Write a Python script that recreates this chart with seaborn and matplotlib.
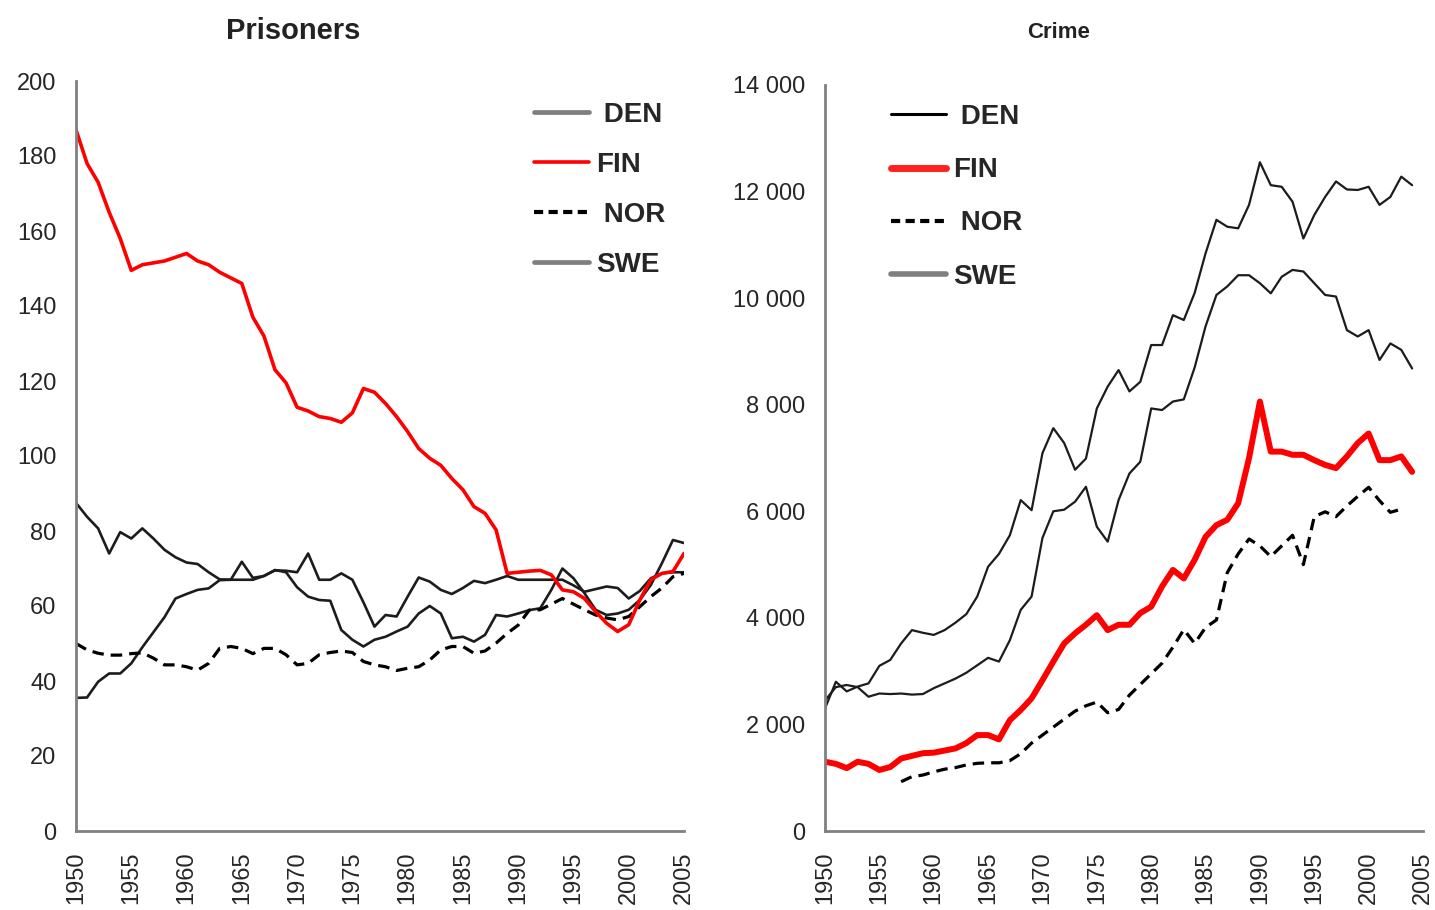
import numpy as np
import pandas as pd
import matplotlib
matplotlib.use("Agg")
import matplotlib.pyplot as plt
from matplotlib.lines import Line2D
import seaborn as sns

# --- data ---
years = list(range(1950, 2006))
crime_years = list(range(1950, 2005))

prison_den = [87.5, 83.8, 80.7, 74, 79.7, 78, 80.7, 78, 75, 73,
              71.6, 71.2, 69, 67.1, 67, 67, 67, 68, 69.5, 69.4,
              69, 74, 67, 67, 68.7, 67, 61, 54.5, 57.6, 57.2,
              62.5, 67.6, 66.5, 64.3, 63.2, 64.8, 66.7, 66.1, 67, 68,
              67, 67, 67, 67, 67, 65.5, 63.8, 64.5, 65.2, 64.8,
              62, 64, 67.4, 68.7, 69, 69]
prison_fin = [187, 178, 173, 165, 158, 149.5, 151, 151.5, 152, 153,
              154, 152, 151, 149, 147.5, 146, 137, 132, 123, 119.5,
              113, 112, 110.5, 110, 109, 111.5, 118, 117, 114, 110.5,
              106.5, 102, 99.4, 97.5, 94, 91, 86.5, 84.7, 80.3, 68.7,
              69, 69.3, 69.5, 68.3, 64.3, 63.8, 62, 58.5, 55.4, 53.2,
              55, 61.6, 67, 68.7, 69.2, 74]
prison_nor = [50, 48.3, 47.4, 46.9, 46.9, 47.3, 47.5, 46.1, 44.3, 44.3,
              43.8, 42.9, 44.7, 48.7, 49.2, 48.7, 47.3, 48.7, 48.7, 47,
              44.3, 44.7, 47, 47.6, 48, 47.6, 45.2, 44.3, 43.8, 42.8,
              43.4, 43.8, 45.6, 48.3, 49.2, 49.2, 47.4, 48, 50.1, 52.7,
              54.9, 58.9, 59, 60.5, 62, 60.5, 59, 57.6, 56.8, 56.3,
              57.2, 59.8, 62.5, 64.8, 67.8, 68.7]
prison_swe = [35.5, 35.6, 39.8, 42, 42, 44.7, 49, 53, 57, 62,
              63.2, 64.3, 64.7, 66.9, 67, 71.8, 67.5, 68, 69.6, 69,
              65, 62.5, 61.6, 61.4, 53.6, 51, 49.2, 51, 51.8, 53.2,
              54.5, 58, 60, 58, 51.4, 51.8, 50.5, 52.3, 57.6, 57.2,
              58, 58.9, 59.4, 64.3, 70, 67.4, 63.4, 59, 57.6, 58,
              59, 61.6, 65.6, 71.4, 77.6, 76.8]

crime_den = [2450, 2700, 2740, 2700, 2520, 2580, 2570, 2580, 2560, 2570,
             2680, 2770, 2860, 2970, 3110, 3250, 3180, 3580, 4150, 4400,
             5500, 6000, 6030, 6180, 6460, 5710, 5430, 6210, 6710, 6930,
             7930, 7900, 8060, 8100, 8700, 9470, 10060, 10220, 10430, 10430,
             10280, 10090, 10400, 10530, 10500, 10280, 10060, 10030, 9400, 9280,
             9400, 8840, 9150, 9030, 8680]
crime_fin = [1300, 1260, 1180, 1300, 1260, 1145, 1200, 1360, 1410, 1460,
             1470, 1510, 1550, 1650, 1800, 1800, 1720, 2080, 2270, 2490,
             2830, 3180, 3520, 3710, 3870, 4050, 3770, 3870, 3870, 4090,
             4210, 4590, 4900, 4740, 5090, 5520, 5740, 5840, 6150, 7000,
             8060, 7120, 7120, 7060, 7060, 6960, 6870, 6810, 7030, 7280,
             7460, 6960, 6960, 7030, 6740]
crime_nor = [np.nan] * 7 + [
             925, 1020, 1050,
             1110, 1160, 1190, 1240, 1270, 1280, 1280, 1320, 1450, 1650,
             1800, 1950, 2100, 2250, 2350, 2420, 2220, 2280, 2550, 2750,
             2950, 3150, 3450, 3780, 3520, 3820, 3960, 4850, 5200, 5480,
             5350, 5150, 5350, 5550, 5000, 5900, 5990, 5900, 6100, 6280,
             6450, 6200, 5980, 6040, np.nan]
crime_swe = [2300, 2800, 2620, 2710, 2770, 3100, 3210, 3520, 3770, 3720,
             3680, 3770, 3910, 4070, 4400, 4960, 5200, 5550, 6210, 6020,
             7090, 7560, 7280, 6780, 6990, 7930, 8340, 8650, 8250, 8430,
             9120, 9120, 9680, 9590, 10100, 10840, 11470, 11340, 11310, 11750,
             12550, 12120, 12090, 11810, 11120, 11560, 11900, 12190, 12040, 12030,
             12090, 11750, 11900, 12280, 12120]

countries = ["DEN", "FIN", "NOR", "SWE"]
year_labels = [str(y) if y % 5 == 0 else "" for y in years]
prison_ticks = list(range(0, 201, 20))
crime_ticks = list(range(0, 14001, 2000))
crime_tick_labels = ["0", "2 000", "4 000", "6 000", "8 000", "10 000", "12 000", "14 000"]

prison = pd.DataFrame({"year": years, "DEN": prison_den, "FIN": prison_fin,
                       "NOR": prison_nor, "SWE": prison_swe})
crime = pd.DataFrame({"year": crime_years, "DEN": crime_den, "FIN": crime_fin,
                      "NOR": crime_nor, "SWE": crime_swe})

sns.set_style("white")
plt.rcParams["font.family"] = ["Liberation Sans", "DejaVu Sans"]

fig = plt.figure(figsize=(14.35, 9.10), dpi=100)
ax1 = fig.add_axes([76 / 1435, 1 - 831 / 910, 608 / 1435, 750 / 910])
ax2 = fig.add_axes([825 / 1435, 1 - 831 / 910, 598 / 1435, 746 / 910])

dark = "#1c1c1c"
dash = (0, (3.6, 2.2))
nor_style = dict(color="black", linewidth=2.3, linestyle=dash)

# Prisoners
sns.lineplot(data=prison, x="year", y="DEN", ax=ax1, color=dark, linewidth=1.9)
sns.lineplot(data=prison, x="year", y="SWE", ax=ax1, color=dark, linewidth=1.9)
sns.lineplot(data=prison, x="year", y="NOR", ax=ax1, **nor_style)
sns.lineplot(data=prison, x="year", y="FIN", ax=ax1, color="#ff0000", linewidth=2.6)

# Crime
sns.lineplot(data=crime, x="year", y="DEN", ax=ax2, color=dark, linewidth=1.6)
sns.lineplot(data=crime, x="year", y="SWE", ax=ax2, color=dark, linewidth=1.6)
sns.lineplot(data=crime, x="year", y="NOR", ax=ax2, **nor_style)
sns.lineplot(data=crime, x="year", y="FIN", ax=ax2, color="#ff0000", linewidth=4.3)

spine_col = "#808080"
for ax in (ax1, ax2):
    ax.set_xlim(1950, 2005)
    ax.set_xticks(years)
    ax.set_xticklabels(year_labels, rotation=90, fontsize=17)
    ax.set_xlabel("")
    ax.set_ylabel("")
    for s in ("top", "right"):
        ax.spines[s].set_visible(False)
    for s in ("left", "bottom"):
        ax.spines[s].set_color(spine_col)
        ax.spines[s].set_linewidth(2)
    ax.tick_params(axis="both", direction="out", length=7, width=1.5,
                   color=spine_col, pad=7, labelsize=17)
    ax.tick_params(axis="x", length=7, pad=8)

ax1.set_ylim(0, 200)
ax1.set_yticks(prison_ticks)
ax1.set_yticklabels([str(t) for t in prison_ticks])
ax2.set_ylim(0, 14000)
ax2.set_yticks(crime_ticks)
ax2.set_yticklabels(crime_tick_labels)

ax1.set_title("Prisoners", fontsize=21, fontweight="bold", x=0.357, y=1.045, color="#222222")
ax2.set_title("Crime", fontsize=16, fontweight="bold", x=0.391, y=1.052, color="#222222")

# legends, styled the way the reference draws its keys
left_handles = [
    Line2D([], [], color="#7f7f7f", linewidth=3.4),
    Line2D([], [], color="#ff0000", linewidth=2.6),
    Line2D([], [], color="black", linewidth=3, linestyle=(0, (2.2, 1.3))),
    Line2D([], [], color="#7f7f7f", linewidth=3.4),
]
right_handles = [
    Line2D([], [], color="black", linewidth=2.2),
    Line2D([], [], color="#ff2020", linewidth=5),
    Line2D([], [], color="black", linewidth=3, linestyle=(0, (2.2, 1.3))),
    Line2D([], [], color="#7f7f7f", linewidth=4),
]
left_labels = [" DEN", "FIN", " NOR", "SWE"]
right_labels = [" DEN", "FIN", " NOR", "SWE"]

leg_kw = dict(loc="upper left", frameon=False, handlelength=2.0, handletextpad=0.25,
              prop={"size": 20, "weight": "bold"})
ax1.legend(left_handles, left_labels, bbox_to_anchor=(0.712, 1.006),
           labelspacing=0.87, **leg_kw)
ax2.legend(right_handles, right_labels, bbox_to_anchor=(0.068, 1.008),
           labelspacing=0.98, **leg_kw)

plt.savefig("out.png", dpi=100)
